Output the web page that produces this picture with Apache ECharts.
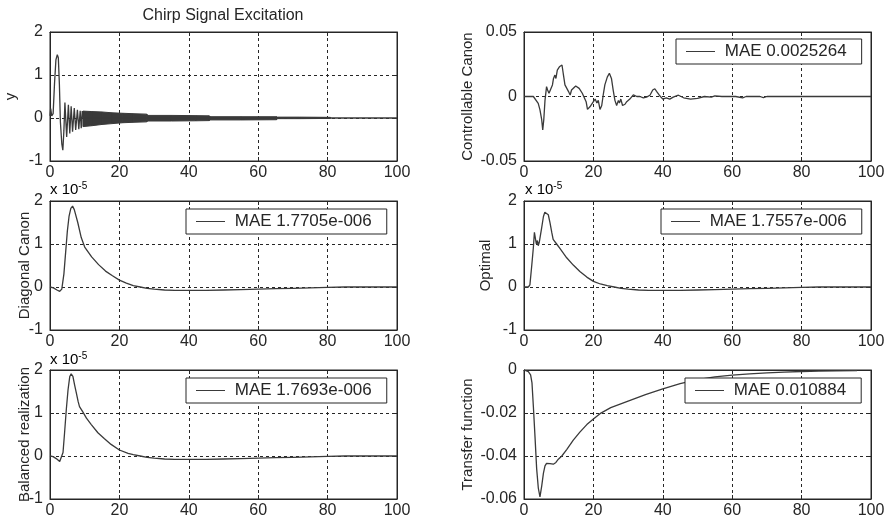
<!DOCTYPE html>
<html>
<head>
<meta charset="utf-8">
<script src="https://cdn.jsdelivr.net/npm/echarts@6/dist/echarts.min.js"></script>
</head>
<body style="margin: 0">
<div id="main" style="width: 888px; height: 522px"></div>
<script type="text/javascript">
// chirp excitation: first swings by hand, then a dense band (read as envelope)
var chirpX = [0, 0.2, 0.5, 0.9, 1.3, 1.7, 2.1, 2.4, 2.7, 3.0, 3.4, 3.7, 4.0, 4.3, 4.8, 5.3, 5.7, 6.1, 6.5, 7.0, 7.4, 7.9, 8.3, 8.7, 9.0, 9.3, 9.6, 80.8, 100];
var chirpY = [0.05, 0.22, 0.05, 0.1, 0.8, 1.35, 1.47, 1.4, 0.8, -0.1, -0.6, -0.75, -0.3, 0.36, -0.44, 0.31, -0.36, 0.27, -0.32, 0.23, -0.28, 0.19, -0.26, 0.17, -0.24, 0.16, 0, 0, 0];
var bandX  = [9.5, 12, 15, 18, 21, 24, 27.9, 28.1, 35, 42, 45.9, 46.1, 55, 65.3, 65.5, 72, 80.8];
var bandHi = [0.16, 0.15, 0.14, 0.12, 0.11, 0.1, 0.09, 0.06, 0.06, 0.055, 0.05, 0.03, 0.03, 0.03, 0.02, 0.02, 0.015];
var bandLo = [-0.2, -0.18, -0.15, -0.13, -0.11, -0.1, -0.09, -0.07, -0.07, -0.065, -0.06, -0.045, -0.045, -0.04, -0.015, -0.015, -0.01];

var ctrlX = [0, 2.7, 3.2, 4.1, 4.6, 5.1, 5.4, 5.7, 6.05, 6.5, 6.8, 7.2, 7.7, 8.2, 8.5, 8.9, 9.2, 9.6, 10.2, 10.6, 10.95, 11.3, 11.8, 12.3, 12.8, 13.3, 13.7, 14.2, 14.9, 15.4, 15.9, 16.3, 16.8, 17.3, 17.9, 18.3, 19.0, 19.5, 20.0, 20.5, 21.0, 21.4, 21.9, 22.4, 22.9, 23.3, 24.0, 24.6, 25.2, 25.7, 26.2, 26.7, 27.2, 27.5, 27.9, 28.4, 29.1, 29.6, 30.5, 31.5, 32.5, 33.4, 34.4, 35.3, 36.3, 37.1, 37.7, 38.2, 39, 40, 41, 42, 43, 44.5, 46, 48, 50, 52, 54, 55, 57, 61, 63, 64, 68, 69, 70, 100];
var ctrlY = [0, 0, -0.0005, -0.0053, -0.0104, -0.018, -0.026, -0.018, -0.003, 0.0076, 0.005, 0.0025, 0.004, 0.009, 0.014, 0.0166, 0.014, 0.0205, 0.023, 0.022, 0.0244, 0.018, 0.009, 0.0076, 0.004, 0.0012, 0.005, 0.004, 0.0082, 0.0097, 0.0063, 0.0076, 0.0025, 0.004, -0.004, -0.01, -0.008, -0.009, -0.004, -0.002, -0.005, -0.003, -0.01, -0.007, 0.0025, 0.009, 0.015, 0.018, 0.014, 0.005, -0.003, -0.007, -0.003, -0.005, -0.002, -0.007, -0.006, -0.004, -0.002, 0.0013, 0, 0, -0.001, -0.0005, 0.001, 0.005, 0.006, 0.004, 0.001, -0.002, -0.001, -0.002, -0.0005, 0.001, -0.001, -0.002, -0.0015, 0, -0.0005, 0.0005, 0, 0, -0.001, 0, 0, -0.0008, 0, 0];

// the three state-space errors, in units of 1e-5
var diagX = [0, 1, 2, 2.8, 3.4, 4, 4.5, 5, 5.5, 6, 6.5, 7, 8, 9, 10, 12, 14, 16, 18, 20, 22, 24, 26, 28, 30, 33, 36, 40, 45, 50, 55, 60, 65, 70, 75, 80, 85, 100];
var diagY = [0, -0.02, -0.07, -0.1, -0.05, 0.3, 0.8, 1.3, 1.65, 1.83, 1.88, 1.8, 1.5, 1.15, 0.93, 0.7, 0.52, 0.37, 0.26, 0.16, 0.09, 0.03, 0, -0.03, -0.05, -0.07, -0.08, -0.08, -0.08, -0.07, -0.06, -0.05, -0.04, -0.03, -0.02, -0.01, 0, 0];
var optX = [0, 1.25, 1.7, 2.2, 2.7, 3.0, 3.3, 3.55, 3.85, 4.1, 4.4, 4.8, 5.1, 5.6, 6.0, 6.5, 7.0, 7.5, 8.0, 8.4, 9.4, 10.4, 12.3, 14.2, 16.1, 18.1, 20, 22, 24, 26, 28, 30, 33, 36, 40, 45, 50, 55, 60, 65, 70, 75, 80, 85, 100];
var optY = [0, 0, 0.05, 0.47, 0.92, 1.27, 1.27, 1.0, 1.08, 0.96, 1.04, 1.08, 1.38, 1.64, 1.74, 1.76, 1.68, 1.49, 1.27, 1.11, 1.0, 0.89, 0.68, 0.51, 0.36, 0.23, 0.13, 0.07, 0.03, 0, -0.03, -0.05, -0.07, -0.08, -0.08, -0.08, -0.07, -0.06, -0.05, -0.04, -0.03, -0.02, -0.01, 0, 0];
var balX = [0, 0.9, 1.8, 2.8, 3.3, 3.75, 4.2, 4.7, 5.2, 5.7, 6.1, 6.6, 7.1, 7.6, 8.1, 8.5, 9.5, 10.5, 11.9, 13.8, 15.7, 17.6, 20, 22.5, 24, 26, 28, 30, 33, 36, 40, 45, 50, 55, 60, 65, 70, 75, 80, 85, 100];
var balY = [0, -0.015, -0.06, -0.13, -0.09, 0.08, 0.54, 1.08, 1.54, 1.85, 1.91, 1.85, 1.65, 1.46, 1.27, 1.15, 1.02, 0.88, 0.73, 0.54, 0.4, 0.27, 0.14, 0.06, 0.03, 0, -0.03, -0.05, -0.07, -0.08, -0.08, -0.08, -0.07, -0.06, -0.05, -0.04, -0.03, -0.02, -0.01, 0, 0];

var tfX = [0, 1.25, 1.9, 2.3, 2.7, 3.17, 3.65, 4.13, 4.6, 5.1, 5.6, 6.05, 6.5, 7.5, 8.45, 9.2, 9.9, 10.9, 12.3, 14.2, 16.1, 18.1, 20, 21.9, 25, 30, 35, 40, 45, 50, 55, 60, 65, 70, 75, 80, 85, 90, 96];
var tfY = [0, -0.0008, -0.0023, -0.006, -0.017, -0.031, -0.046, -0.055, -0.059, -0.054, -0.048, -0.0446, -0.0434, -0.0435, -0.0438, -0.043, -0.0415, -0.04, -0.037, -0.0326, -0.0289, -0.0254, -0.0228, -0.0203, -0.0175, -0.0145, -0.0115, -0.0088, -0.0063, -0.0045, -0.0032, -0.0024, -0.0018, -0.0013, -0.001, -0.0007, -0.0005, -0.0004, -0.0003];

var xTicks = {min: 0, max: 100, step: 20};
var yNames = ['y', 'Controllable Canon', 'Diagonal Canon', 'Optimal', 'Balanced realization', 'Transfer function'];
var yMin = [-1, -0.05, -1, -1, -1, -0.06];
var yMax = [2, 0.05, 2, 2, 2, 0];
var yStep = [1, 0.05, 1, 1, 1, 0.02];
var maeNames = [null, 'MAE 0.0025264', 'MAE 1.7705e-006', 'MAE 1.7557e-006', 'MAE 1.7693e-006', 'MAE 0.010884'];

var traces = [null, [ctrlX, ctrlY], [diagX, diagY], [optX, optY], [balX, balY], [tfX, tfY]];

// layout
var cols = [50, 524], rows = [32, 201, 370];
var W = 347, H = 129;
var nameGaps = [32, 49, 18, 31, 18, 49];
var legendPos = [null, [676, 39], [186, 209], [661, 209], [186, 378], [685, 378]];
var ink = '#262626';
var trace = '#3a3a3a';
var font = 'Liberation Sans, Arial, sans-serif';

function pairs(xs, ys) {
    return xs.map(function (x, i) { return [x, ys[i]]; });
}

var myChart = echarts.init(document.getElementById('main'));
var grids = [], xAxes = [], yAxes = [], series = [], legends = [];
var tick = {inside: true, length: 4, lineStyle: {color: ink}};
var line = {onZero: false, lineStyle: {color: ink, width: 1}};
var grid = {lineStyle: {color: ink, type: [3, 3], width: 1}};

for (var i = 0; i < 6; i++) {
    grids.push({
        left: cols[i % 2], top: rows[Math.floor(i / 2)], width: W, height: H,
        show: true, borderColor: ink, borderWidth: 1, backgroundColor: '#fff'
    });
    xAxes.push({
        gridIndex: i, type: 'value', position: 'bottom',
        min: xTicks.min, max: xTicks.max, interval: xTicks.step,
        axisLine: line, axisTick: tick, splitLine: grid,
        axisLabel: {margin: 4, fontSize: 16, color: ink, fontFamily: font}
    });
    xAxes.push({
        gridIndex: i, type: 'value', position: 'top',
        min: xTicks.min, max: xTicks.max, interval: xTicks.step,
        axisLine: line, axisTick: tick, splitLine: {show: false}, axisLabel: {show: false}
    });
    yAxes.push({
        gridIndex: i, type: 'value', position: 'left',
        min: yMin[i], max: yMax[i], interval: yStep[i],
        name: yNames[i], nameLocation: 'middle', nameGap: nameGaps[i], nameMoveOverlap: false,
        nameTextStyle: {fontSize: 15, color: ink, fontFamily: font},
        axisLine: line, axisTick: tick, splitLine: grid,
        axisLabel: {margin: 7, fontSize: 16, color: ink, fontFamily: font}
    });
    yAxes.push({
        gridIndex: i, type: 'value', position: 'right',
        min: yMin[i], max: yMax[i], interval: yStep[i],
        axisLine: line, axisTick: tick, splitLine: {show: false}, axisLabel: {show: false}
    });

    if (traces[i]) {
        series.push({
            name: maeNames[i], type: 'line', xAxisIndex: 2 * i, yAxisIndex: 2 * i,
            data: pairs(traces[i][0], traces[i][1]),
            showSymbol: false, silent: true,
            lineStyle: {color: trace, width: 1.3}, itemStyle: {color: trace}
        });
        legends.push({
            data: [maeNames[i]], left: legendPos[i][0], top: legendPos[i][1],
            icon: 'rect', itemWidth: 29, itemHeight: 1, selectedMode: false,
            formatter: ' {name}', padding: [4, 15, 4, 10],
            borderColor: ink, borderWidth: 1, backgroundColor: '#fff',
            textStyle: {fontSize: 17, color: ink, fontFamily: font}
        });
    }
}

// chirp: line for the first swings, filled envelope for the dense band
series.push({
    name: 'chirp', type: 'line', xAxisIndex: 0, yAxisIndex: 0,
    data: pairs(chirpX, chirpY), showSymbol: false, silent: true,
    lineStyle: {color: trace, width: 1.3}
});
var bandSegs = bandX.slice(0, -1).map(function (x, k) {
    return [x, bandLo[k], bandHi[k], bandX[k + 1], bandLo[k + 1], bandHi[k + 1]];
});
series.push({
    name: 'chirp band', type: 'custom', coordinateSystem: 'cartesian2d',
    xAxisIndex: 0, yAxisIndex: 0, silent: true,
    encode: {x: [0, 3], y: [1, 2, 4, 5]},
    data: bandSegs,
    renderItem: function (params, api) {
        var pts = [
            api.coord([api.value(0), api.value(2)]),
            api.coord([api.value(3), api.value(5)]),
            api.coord([api.value(3), api.value(4)]),
            api.coord([api.value(0), api.value(1)])
        ];
        return {
            type: 'polygon', shape: {points: pts},
            style: {fill: trace, stroke: trace, lineWidth: 1}
        };
    }
});

var sup = {
    a: {fontSize: 15, fontFamily: font, color: ink, lineHeight: 18},
    b: {fontSize: 10, fontFamily: font, color: ink, lineHeight: 10, verticalAlign: 'top'}
};
var expo = [[50, 190], [525, 190], [50, 360]];

myChart.setOption({
    animation: false,
    backgroundColor: '#fff',
    grid: grids,
    xAxis: xAxes,
    yAxis: yAxes,
    legend: legends,
    series: series,
    graphic: [{
        type: 'text', x: 223, y: 16,
        style: {text: 'Chirp Signal Excitation', fontSize: 16, fontFamily: font, fill: ink, align: 'center', verticalAlign: 'middle'}
    }].concat(expo.map(function (p) {
        return {
            type: 'text', x: p[0], y: p[1],
            style: {text: '{a|x 10}{b|-5}', rich: sup, align: 'left', verticalAlign: 'middle'}
        };
    }))
});
</script>
</body>
</html>
